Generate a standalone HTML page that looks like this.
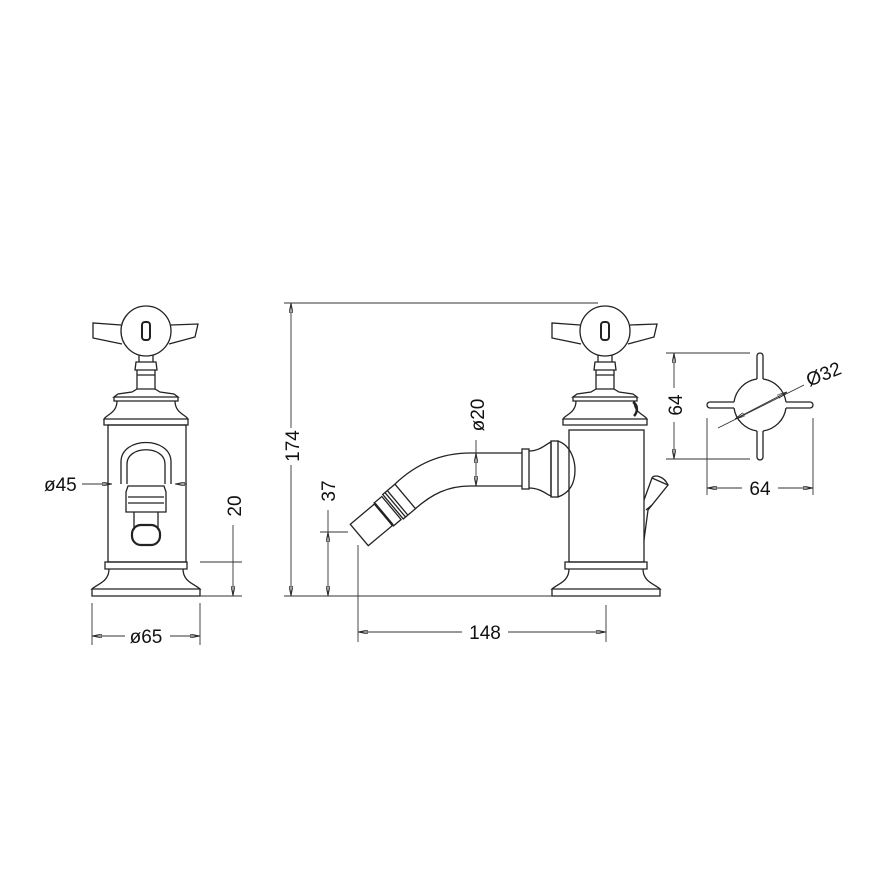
<!DOCTYPE html>
<html><head><meta charset="utf-8"><style>
html,body{margin:0;padding:0;background:#fff}
svg{display:block}
text{font-family:"Liberation Sans",sans-serif;font-size:19px;fill:#111}
</style></head><body>
<svg width="891" height="891" viewBox="0 0 891 891" xmlns="http://www.w3.org/2000/svg">
<defs>
<marker id="a" viewBox="0 0 10 4" refX="10" refY="2" markerWidth="10" markerHeight="4" orient="auto-start-reverse" markerUnits="userSpaceOnUse"><path d="M0,0 L10,2 L0,4 Z" fill="none" stroke="#222" stroke-width="0.8"/></marker>
<g id="handle" fill="none" stroke="#222" stroke-width="1.3">
 <path d="M-25,-6 L-53,-8 L-53,7 L-24,13 M25,-6 L52,-7 L49,6 L23,13"/>
 <circle cx="0" cy="0" r="25"/>
 <rect x="-4" y="-9" width="8" height="18" rx="3" stroke-width="2"/>
 <path d="M-7,24 L-7,31 L7,31 L7,24 M-10,31 L10,31 L11,39 L-11,39 Z M-9,39 L-9,58 L9,58 L9,39 M-9,44 L9,44"/>
 <path d="M-9,58 L-14,61 L-28,63 L-32,66 L32,66 L28,63 L14,61 L9,58"/>
 <path d="M-32,60 L-32,68 L32,68 L32,60 Z" stroke="none"/>
 <path d="M-32,66 L-32,70 L32,70 L32,66 M-29,70 C-29,82 -40,84 -42,88 L42,88 C40,84 29,82 29,70 M-42,88 L-42,94 L42,94 L42,88"/>
</g>
<g id="base" fill="none" stroke="#222" stroke-width="1.3">
 <path d="M-41,0 L41,0 L41,7 L-41,7 Z M-37,7 C-37,20 -49,22 -54,27 L54,27 C49,22 37,20 37,7 M-54,27 L-54,34 L54,34 L54,27"/>
</g>
</defs>

<!-- LEFT VIEW -->
<use href="#handle" x="146" y="331"/>
<rect x="108" y="425" width="78" height="137" fill="none" stroke="#222" stroke-width="1.3"/>
<use href="#base" x="146" y="562"/>
<g fill="none" stroke="#222" stroke-width="1.3">
 <path d="M121,484 L121,462 C121,436 171,436 171,462 L171,484"/>
 <path d="M127,484 L127,464 C127,445 165,445 165,464 L165,484"/>
 <path d="M128,486 L164,486 L166,492 L166,512 L126,512 L126,492 Z M128,497 L164,497 M128,503 L164,503"/>
 <path d="M134,512 L134,530 M158,512 L158,530"/>
 <rect x="132" y="525" width="28" height="20" rx="9" stroke-width="2.2"/>
</g>
<g stroke="#333" stroke-width="0.9" fill="none">
 <line x1="82" y1="484" x2="112" y2="484" marker-end="url(#a)"/>
 <line x1="187" y1="484" x2="175" y2="484" marker-end="url(#a)"/>
 <line x1="200" y1="562" x2="242" y2="562"/>
 <line x1="200" y1="596" x2="242" y2="596"/>
 <line x1="233" y1="525" x2="233" y2="596" marker-end="url(#a)"/>
 <line x1="92" y1="603" x2="92" y2="645"/>
 <line x1="200" y1="603" x2="200" y2="645"/>
 <line x1="92" y1="636" x2="125" y2="636" marker-start="url(#a)"/>
 <line x1="170" y1="636" x2="200" y2="636" marker-end="url(#a)"/>
</g>
<text x="44" y="491">ø45</text>
<text x="146" y="643" text-anchor="middle">ø65</text>
<text transform="translate(241,506) rotate(-90)" text-anchor="middle">20</text>

<!-- MIDDLE VIEW -->
<use href="#handle" x="605" y="331"/>
<rect x="569" y="430" width="75" height="132" fill="none" stroke="#222" stroke-width="1.3"/>
<use href="#base" x="606" y="562"/>
<g fill="none" stroke="#222" stroke-width="1.3">
 <path d="M633,402 C638,405 638,412 634,416" stroke-width="2.5"/>
 <path d="M522,453 L470,453 C440,453 415,465 395,484"/>
 <path d="M522,486 L470,486 C448,486 432,494 415,509"/>
 <rect x="522" y="449" width="7" height="40"/>
 <path d="M529,451 C540,451 546,444 551,442 L551,496 C546,494 540,488 529,488"/>
 <rect x="551" y="441" width="7" height="56"/>
 <path d="M558,441 C572,446 575,462 575,470 C575,480 572,492 558,497"/>
 <path d="M644,500 L652,478 L668,485 L648,510 L644,540"/>
 <path d="M652,478 C654,474 664,476 668,485 M646,510 L652,505"/>
 <g transform="translate(370,526) rotate(-40)">
  <rect x="-14" y="-14" width="32" height="28"/>
  <line x1="18" y1="-14" x2="18" y2="14" stroke-width="2.5"/>
  <rect x="18" y="-15" width="10" height="30"/>
  <rect x="30" y="-16" width="16" height="32"/>
  <line x1="33" y1="-16" x2="33" y2="16"/><line x1="36" y1="-16" x2="36" y2="16"/>
 </g>
</g>
<g stroke="#333" stroke-width="0.9" fill="none">
 <line x1="284" y1="303" x2="598" y2="303"/>
 <line x1="284" y1="596" x2="552" y2="596"/>
 <line x1="291" y1="303" x2="291" y2="428" marker-start="url(#a)"/>
 <line x1="291" y1="465" x2="291" y2="596" marker-end="url(#a)"/>
 <line x1="476" y1="440" x2="476" y2="453"/>
 <line x1="476" y1="453" x2="476" y2="486" marker-start="url(#a)" marker-end="url(#a)"/>
 <line x1="320" y1="532" x2="348" y2="532"/>
 <line x1="328" y1="510" x2="328" y2="532"/>
 <line x1="328" y1="532" x2="328" y2="596" marker-start="url(#a)" marker-end="url(#a)"/>
 <line x1="358" y1="545" x2="358" y2="642"/>
 <line x1="606" y1="605" x2="606" y2="642"/>
 <line x1="358" y1="632" x2="462" y2="632" marker-start="url(#a)"/>
 <line x1="508" y1="632" x2="606" y2="632" marker-end="url(#a)"/>
</g>
<text transform="translate(299,446) rotate(-90)" text-anchor="middle">174</text>
<text transform="translate(335,491) rotate(-90)" text-anchor="middle">37</text>
<text transform="translate(484,415) rotate(-90)" text-anchor="middle">ø20</text>
<text x="485" y="639" text-anchor="middle">148</text>

<!-- RIGHT VIEW -->
<g fill="none" stroke="#222" stroke-width="1.3">
 <path d="M757,379 L757,356 A3,3 0 0 1 763,356 L763,379"/>
 <path d="M757,431 L757,457 A3,3 0 0 0 763,457 L763,431"/>
 <path d="M734,402 L710,402 A3,3 0 0 0 710,408 L734,408"/>
 <path d="M786,402 L810,402 A3,3 0 0 1 810,408 L786,408"/>
 <path d="M763,379 A27,27 0 0 1 786,402 M786,408 A27,27 0 0 1 763,431 M757,431 A27,27 0 0 1 734,408 M734,402 A27,27 0 0 1 757,379"/>
</g>
<g stroke="#333" stroke-width="0.9" fill="none">
 <line x1="666" y1="353" x2="750" y2="353"/>
 <line x1="666" y1="459" x2="750" y2="459"/>
 <line x1="674" y1="353" x2="674" y2="388" marker-start="url(#a)"/>
 <line x1="674" y1="422" x2="674" y2="459" marker-end="url(#a)"/>
 <line x1="707" y1="418" x2="707" y2="495"/>
 <line x1="813" y1="418" x2="813" y2="495"/>
 <line x1="707" y1="488" x2="742" y2="488" marker-start="url(#a)"/>
 <line x1="778" y1="488" x2="813" y2="488" marker-end="url(#a)"/>
 <line x1="718" y1="428" x2="804" y2="385"/>
 <line x1="760" y1="406" x2="735" y2="419" marker-end="url(#a)"/>
 <line x1="760" y1="406" x2="787" y2="392" marker-end="url(#a)"/>
</g>
<text transform="translate(682,405) rotate(-90)" text-anchor="middle">64</text>
<text x="760" y="495" text-anchor="middle">64</text>
<text transform="translate(826,380) rotate(-22)" text-anchor="middle">Ø32</text>
</svg>
</body></html>
